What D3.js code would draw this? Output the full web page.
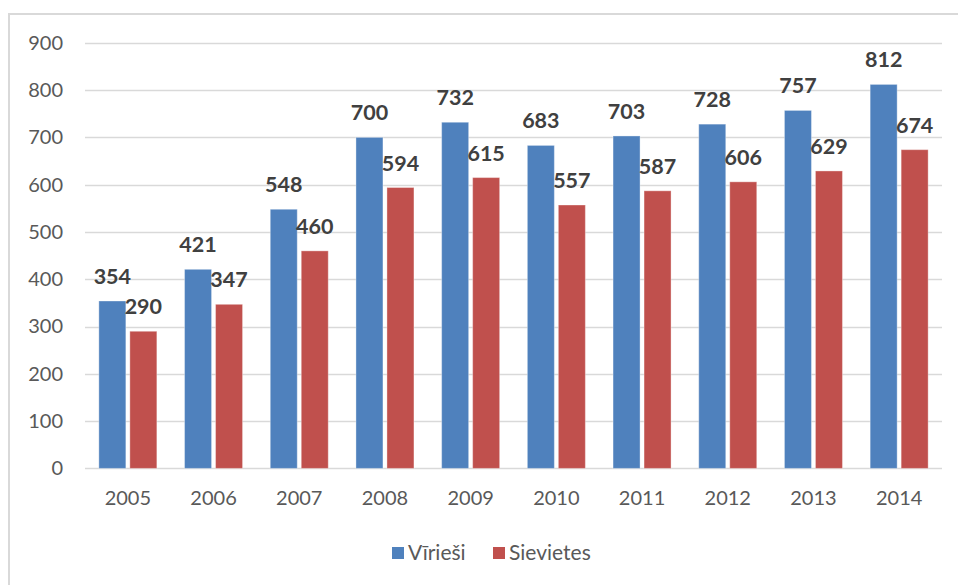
<!DOCTYPE html>
<html>
<head>
<meta charset="utf-8">
<script src="https://cdn.jsdelivr.net/npm/d3@7/dist/d3.min.js"></script>
<style>
  html, body { margin: 0; padding: 0; background: #fff; }
  svg { display: block; }
</style>
</head>
<body>
<svg id="chart" width="958" height="585"></svg>
<script>
// Data: yearly counts by sex
const years = ["2005", "2006", "2007", "2008", "2009", "2010", "2011", "2012", "2013", "2014"];
const seriesNames = ["Vīrieši", "Sievietes"];
const valuesMen = [354, 421, 548, 700, 732, 683, 703, 728, 757, 812];
const valuesWomen = [290, 347, 460, 594, 615, 557, 587, 606, 629, 674];
const yTicks = [0, 100, 200, 300, 400, 500, 600, 700, 800, 900];

const colors = { "Vīrieši": "#4F81BD", "Sievietes": "#C0504D" };
const seriesValues = { "Vīrieši": valuesMen, "Sievietes": valuesWomen };

const svg = d3.select("#chart");
const font = "Lato, 'Open Sans', sans-serif";

// Outer chart frame
svg.append("rect")
  .attr("x", 9).attr("y", 14)
  .attr("width", 970).attr("height", 600)
  .attr("fill", "#fff")
  .attr("stroke", "#d9d9d9")
  .attr("stroke-width", 2);

const plot = { left: 85, right: 942, top: 42.8, bottom: 468.4 };

const y = d3.scaleLinear().domain([0, 900]).range([plot.bottom, plot.top]);
const x0 = d3.scaleBand().domain(years).range([plot.left, plot.right]).padding(0);
const groupWidth = 58;
const x1 = d3.scaleBand().domain(seriesNames).range([0, groupWidth]).paddingInner(0.129).paddingOuter(0);
const groupOffset = (x0.bandwidth() - groupWidth) / 2;

// Gridlines
svg.append("g")
  .selectAll("line")
  .data(yTicks)
  .join("line")
  .attr("x1", plot.left).attr("x2", plot.right)
  .attr("y1", d => Math.round(y(d)) + 0.5)
  .attr("y2", d => Math.round(y(d)) + 0.5)
  .attr("stroke", "#d9d9d9")
  .attr("stroke-width", 1.3);

// Y axis labels
const yAxis = d3.axisLeft(y).tickValues(yTicks).tickSize(0).tickPadding(0);
const yg = svg.append("g").attr("transform", `translate(63,0)`).call(yAxis);
yg.select(".domain").remove();
yg.selectAll("text")
  .attr("font-family", font)
  .attr("font-size", 20)
  .attr("fill", "#595959");

// X axis labels
const xAxis = d3.axisBottom(x0).tickSize(0).tickPadding(0);
const xg = svg.append("g").attr("transform", `translate(0,491)`).call(xAxis);
xg.select(".domain").remove();
xg.selectAll("text")
  .attr("font-family", font)
  .attr("font-size", 20)
  .attr("fill", "#595959");

// Bars
const rows = years.map((yr, i) => ({ year: yr, values: seriesNames.map(s => ({ series: s, value: seriesValues[s][i] })) }));

const groups = svg.append("g")
  .selectAll("g")
  .data(rows)
  .join("g")
  .attr("transform", d => `translate(${x0(d.year) + groupOffset},0)`);

groups.selectAll("rect")
  .data(d => d.values)
  .join("rect")
  .attr("x", d => x1(d.series))
  .attr("y", d => y(d.value))
  .attr("width", x1.bandwidth())
  .attr("height", d => y(0) - y(d.value))
  .attr("fill", d => colors[d.series])
  .attr("stroke", "rgba(255,255,255,0.35)")
  .attr("stroke-width", 1);

// Value labels
groups.selectAll("text")
  .data(d => d.values)
  .join("text")
  .attr("x", d => x1(d.series) + x1.bandwidth() / 2)
  .attr("y", d => y(d.value) - 17)
  .attr("text-anchor", "middle")
  .attr("font-family", font)
  .attr("font-weight", "bold")
  .attr("font-size", 21.5)
  .attr("fill", "#404040")
  .text(d => d.value);

// Legend
const legend = svg.append("g").attr("transform", "translate(392,553)");
const legendX = [0, 101];
seriesNames.forEach((s, i) => {
  const g = legend.append("g").attr("transform", `translate(${legendX[i]},0)`);
  g.append("rect")
    .attr("x", 0).attr("y", -6)
    .attr("width", 12).attr("height", 12)
    .attr("fill", colors[s]);
  g.append("text")
    .attr("x", 16).attr("y", 0)
    .attr("dy", "0.35em")
    .attr("font-family", font)
    .attr("font-size", 21)
    .attr("fill", "#595959")
    .text(s);
});
</script>
</body>
</html>
